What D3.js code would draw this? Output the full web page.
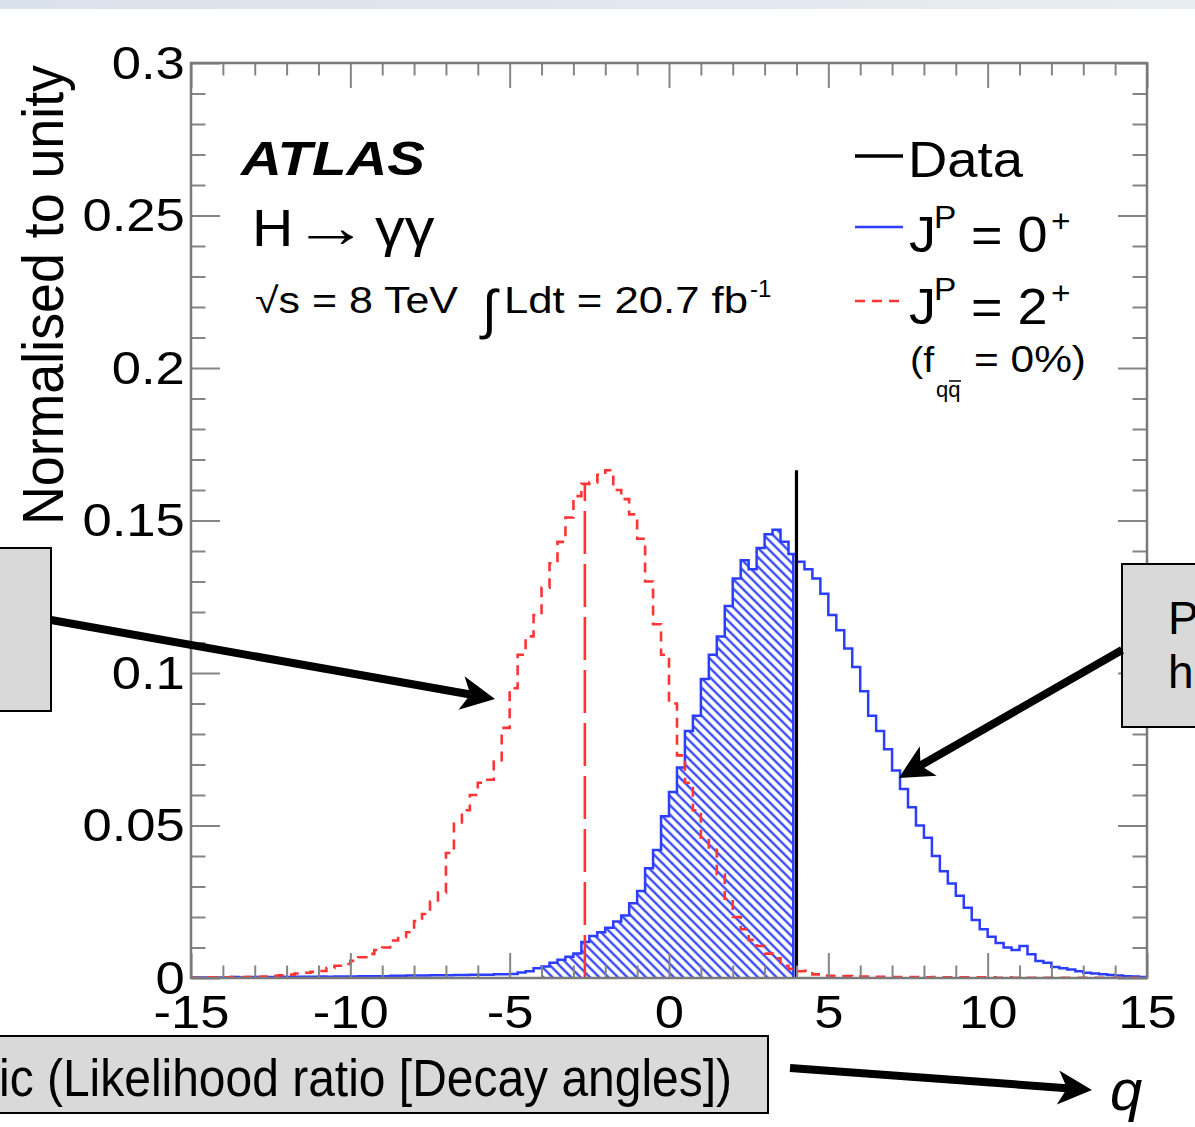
<!DOCTYPE html>
<html><head><meta charset="utf-8">
<script src="https://cdn.jsdelivr.net/npm/d3@7"></script>
<style>
html,body{margin:0;padding:0;background:#fff;overflow:hidden}
svg{display:block}
text{font-family:"Liberation Sans",Arial,Helvetica,sans-serif}
</style></head><body>
<svg id="c" width="1195" height="1127"></svg>
<script>
// ---------------- data ----------------
// lower edges of the 0.25-wide bins in q
const binLow = d3.range(120).map(i => -15 + 0.25 * i);
const binUpper = 15;
// J^P = 0+ (blue, normalised to unity)
const spin0 = [
 0.0002,0.0002,0.0002,0.0002, 0.0002,0.0003,0.0002,0.0003, 0.0003,0.0003,0.0003,0.0004,
 0.0003,0.0004,0.0004,0.0004, 0.0005,0.0004,0.0005,0.0005, 0.0005,0.0006,0.0006,0.0006,
 0.0006,0.0007,0.0007,0.0008, 0.0008,0.0008,0.0009,0.0009, 0.0009,0.0010,0.0010,0.0011,
 0.0011,0.0011,0.0012,0.0012, 0.0013,0.0018,0.0022,0.0032, 0.0038,0.0050,0.0060,0.0070,
 0.0080,0.0118,0.0138,0.0150, 0.0165,0.0185,0.0205,0.0245, 0.0285,0.0360,0.0420,0.0530,
 0.0610,0.0690,0.0810,0.0860, 0.0980,0.1060,0.1120,0.1220, 0.1310,0.1370,0.1340,0.1410,
 0.1455,0.1470,0.1430,0.1390, 0.1365,0.1340,0.1310,0.1260, 0.1190,0.1140,0.1080,0.1020,
 0.0940,0.0860,0.0810,0.0750, 0.0680,0.0620,0.0560,0.0500, 0.0460,0.0400,0.0350,0.0310,
 0.0270,0.0230,0.0190,0.0160, 0.0135,0.0115,0.0100,0.0092, 0.0105,0.0078,0.0056,0.0050,
 0.0036,0.0032,0.0028,0.0022, 0.0017,0.0015,0.0012,0.0010, 0.0008,0.0006,0.0005,0.0003
];
// J^P = 2+ (red dashed, f_qqbar = 0%)
const spin2 = [
 0.0001,0.0001,0.0002,0.0002, 0.0002,0.0003,0.0003,0.0003, 0.0004,0.0005,0.0007,0.0009,
 0.0011,0.0015,0.0017,0.0020, 0.0023,0.0033,0.0040,0.0046, 0.0056,0.0068,0.0079,0.0092,
 0.0100,0.0123,0.0135,0.0150, 0.0187,0.0210,0.0250,0.0280, 0.0410,0.0510,0.0550,0.0600,
 0.0640,0.0650,0.0710,0.0820, 0.0950,0.1060,0.1120,0.1190, 0.1280,0.1360,0.1430,0.1510,
 0.1580,0.1620,0.1625,0.1650, 0.1665,0.1600,0.1570,0.1520, 0.1440,0.1300,0.1160,0.1060,
 0.0900,0.0730,0.0640,0.0550, 0.0460,0.0420,0.0340,0.0260, 0.0200,0.0160,0.0125,0.0105,
 0.0080,0.0065,0.0040,0.0030, 0.0022,0.0024,0.0012,0.0008, 0.0007,0.0006,0.0006,0.0005,
 0.0005,0.0004,0.0004,0.0004, 0.0003,0.0003,0.0003,0.0003, 0.0002,0.0003,0.0002,0.0002,
 0.0002,0.0002,0.0002,0.0002, 0.0002,0.0001,0.0002,0.0001, 0.0001,0.0001,0.0001,0.0001,
 0.0001,0.0001,0.0001,0.0001, 0.0001,0.0001,0.0001,0.0001, 0.0001,0.0001,0.0001,0.0001
];
const dataQ = 4.0, dataLineTop = 0.1665;        // observed value
const median2Q = -2.64, median2Top = 0.1617;    // median of 2+ distribution
const hatchRange = [-4.0, 3.9];                  // shaded region under 0+
const xMajorTicks = [-15, -10, -5, 0, 5, 10, 15];
const xTickLabels = ["-15", "-10", "-5", "0", "5", "10", "15"];
const xMinorTicks = [-14,-13,-12,-11,-9,-8,-7,-6,-4,-3,-2,-1,1,2,3,4,6,7,8,9,11,12,13,14];
const yMajorTicks = [0, 0.05, 0.1, 0.15, 0.2, 0.25, 0.3];
const yTickLabels = ["0", "0.05", "0.1", "0.15", "0.2", "0.25", "0.3"];
const yMinorTicks = [0.01,0.02,0.03,0.04,0.06,0.07,0.08,0.09,0.11,0.12,0.13,0.14,0.16,0.17,0.18,0.19,0.21,0.22,0.23,0.24,0.26,0.27,0.28,0.29];
// annotation arrow targets (data coords)
const arrowLeftTarget = [-5.46, 0.0915];
const arrowRightTarget = [7.21, 0.0656];

// ---------------- drawing ----------------
const W = 1195, H = 1127;
const BLUE = "#2b3dff", RED = "#ff3535", TICK = "#858585";
const svg = d3.select("#c");
svg.append("rect").attr("width", W).attr("height", H).attr("fill", "#fff");
const defs = svg.append("defs");
const grad = defs.append("linearGradient").attr("id", "strip").attr("x1", 0).attr("x2", 1);
grad.append("stop").attr("offset", "0%").attr("stop-color", "#d9e1ea");
grad.append("stop").attr("offset", "100%").attr("stop-color", "#e8edf2");
svg.append("rect").attr("width", W).attr("height", 9).attr("fill", "url(#strip)");

const pat = defs.append("pattern").attr("id", "hatch").attr("patternUnits", "userSpaceOnUse")
  .attr("width", 6.6).attr("height", 6.6).attr("patternTransform", "rotate(-45)");
pat.append("line").attr("x1", 3.3).attr("y1", -1).attr("x2", 3.3).attr("y2", 7.6)
  .attr("stroke", BLUE).attr("stroke-width", 2.2);

const x = d3.scaleLinear().domain([-15, 15]).range([191, 1147]);
const y = d3.scaleLinear().domain([0, 0.3]).range([978, 63]);

function steps(vals) {
  const p = binLow.map((q, i) => [q, vals[i]]);
  p.push([binUpper, vals[vals.length - 1]]);
  return p;
}
const line = d3.line().x(d => x(d[0])).y(d => y(d[1])).curve(d3.curveStepAfter);

// hatched area
const hatchPts = binLow.map((q, i) => [q, spin0[i]]).filter(d => d[0] >= hatchRange[0] && d[0] < hatchRange[1]);
const lastIdx = binLow.findIndex(q => q + 0.25 > hatchRange[1]);
hatchPts.push([hatchRange[1], spin0[lastIdx]]);
const area = d3.area().x(d => x(d[0])).y0(y(0)).y1(d => y(d[1])).curve(d3.curveStepAfter);
svg.append("path").attr("d", area(hatchPts)).attr("fill", "url(#hatch)").attr("stroke", "none");
svg.append("line").attr("x1", x(hatchRange[1])).attr("x2", x(hatchRange[1]))
  .attr("y1", y(0)).attr("y2", y(spin0[lastIdx])).attr("stroke", BLUE).attr("stroke-width", 2.5);

// histograms
svg.append("path").attr("d", line(steps(spin0))).attr("fill", "none").attr("stroke", BLUE).attr("stroke-width", 2.5);
svg.append("path").attr("d", line(steps(spin2))).attr("fill", "none").attr("stroke", RED).attr("stroke-width", 2.6)
  .attr("stroke-dasharray", "10,7");
// median line of 2+
svg.append("line").attr("x1", x(median2Q)).attr("x2", x(median2Q)).attr("y1", y(0)).attr("y2", y(median2Top))
  .attr("stroke", RED).attr("stroke-width", 2.6).attr("stroke-dasharray", "43,10");
// data
svg.append("line").attr("x1", x(dataQ)).attr("x2", x(dataQ)).attr("y1", y(0)).attr("y2", y(dataLineTop))
  .attr("stroke", "#000").attr("stroke-width", 3.2);

// axes (ROOT style: inward ticks on all four sides)
function styleAxis(g) {
  g.select(".domain").remove();
  g.attr("font-size", null).attr("font-family", null);
  g.selectAll("line").attr("stroke", TICK).attr("stroke-width", 2);
}
const gxB = svg.append("g").attr("transform", `translate(0,${y(0)})`)
  .call(d3.axisBottom(x).tickValues(xMajorTicks).tickSize(-25).tickSizeOuter(0).tickPadding(17)
    .tickFormat((d, i) => xTickLabels[i]));
styleAxis(gxB);
gxB.selectAll("text").attr("font-size", 47).attr("fill", "#000").attr("transform", "scale(1.12,1)");
svg.append("g").attr("transform", `translate(0,${y(0)})`)
  .call(d3.axisBottom(x).tickValues(xMinorTicks).tickSize(-12.5).tickSizeOuter(0).tickFormat("")).call(styleAxis);
svg.append("g").attr("transform", `translate(0,${y(0.3)})`)
  .call(d3.axisTop(x).tickValues(xMajorTicks).tickSize(-25).tickSizeOuter(0).tickFormat("")).call(styleAxis);
svg.append("g").attr("transform", `translate(0,${y(0.3)})`)
  .call(d3.axisTop(x).tickValues(xMinorTicks).tickSize(-12.5).tickSizeOuter(0).tickFormat("")).call(styleAxis);

const gyL = svg.append("g").attr("transform", `translate(${x(-15)},0)`)
  .call(d3.axisLeft(y).tickValues(yMajorTicks).tickSize(-29).tickSizeOuter(0).tickPadding(6)
    .tickFormat((d, i) => yTickLabels[i]));
styleAxis(gyL);
gyL.selectAll("text").attr("font-size", 47).attr("fill", "#000").attr("x", -5.5).attr("transform", "scale(1.12,1)");
svg.append("g").attr("transform", `translate(${x(-15)},0)`)
  .call(d3.axisLeft(y).tickValues(yMinorTicks).tickSize(-14.5).tickSizeOuter(0).tickFormat("")).call(styleAxis);
svg.append("g").attr("transform", `translate(${x(15)},0)`)
  .call(d3.axisRight(y).tickValues(yMajorTicks).tickSize(-29).tickSizeOuter(0).tickFormat("")).call(styleAxis);
svg.append("g").attr("transform", `translate(${x(15)},0)`)
  .call(d3.axisRight(y).tickValues(yMinorTicks).tickSize(-14.5).tickSizeOuter(0).tickFormat("")).call(styleAxis);

svg.append("rect").attr("x", x(-15)).attr("y", y(0.3)).attr("width", x(15) - x(-15)).attr("height", y(0) - y(0.3))
  .attr("fill", "none").attr("stroke", "#7a7a7a").attr("stroke-width", 2.5);

// text helper
function txt(g, px, py, s, o = {}) {
  let tr = `translate(${px},${py})`;
  if (o.rot) tr += ` rotate(${o.rot})`;
  if (o.sx) tr += ` scale(${o.sx},1)`;
  const t = g.append("text").attr("transform", tr).attr("font-size", o.size || 50)
    .attr("text-anchor", o.anchor || "start").attr("fill", o.fill || "#000").text(s);
  if (o.weight) t.attr("font-weight", o.weight);
  if (o.style) t.attr("font-style", o.style);
  if (o.family) t.attr("font-family", o.family);
  if (o.w) t.attr("textLength", o.w).attr("lengthAdjust", "spacingAndGlyphs");
  return t;
}

// axis title
txt(svg, 63, 295, "Normalised to unity", { rot: -90, anchor: "middle", size: 58, w: 460 });

// labels
txt(svg, 241, 175, "ATLAS", { size: 49, weight: "bold", style: "italic", w: 184 });
txt(svg, 252, 246, "H", { size: 52, sx: 1.1 });
txt(svg, 293, 247, "\u2192", { size: 58, sx: 1.3, family: "DejaVu Sans" });
txt(svg, 375, 246, "\u03B3\u03B3", { size: 54, sx: 1.1, family: "Liberation Serif" });
txt(svg, 255, 313, "\u221As = 8 TeV", { size: 36, w: 203 });
txt(svg, 482, 328, "\u222B", { size: 54, family: "Liberation Serif" });
txt(svg, 504, 313, "Ldt = 20.7 fb", { size: 36, w: 244 });
txt(svg, 750, 297, "-1", { size: 24 });

// legend
svg.append("line").attr("x1", 855).attr("x2", 903).attr("y1", 156).attr("y2", 156).attr("stroke", "#000").attr("stroke-width", 3.5);
txt(svg, 908, 177, "Data", { size: 50, w: 115 });
svg.append("line").attr("x1", 855).attr("x2", 903).attr("y1", 227).attr("y2", 227).attr("stroke", BLUE).attr("stroke-width", 2.6);
txt(svg, 909, 252, "J", { size: 50, sx: 1.08 });
txt(svg, 934, 228, "P", { size: 31, sx: 1.08 });
txt(svg, 971, 252, "= 0", { size: 50, sx: 1.08 });
txt(svg, 1051, 232, "+", { size: 31, sx: 1.08 });
svg.append("line").attr("x1", 855).attr("x2", 903).attr("y1", 301).attr("y2", 301).attr("stroke", RED).attr("stroke-width", 2.6).attr("stroke-dasharray", "10,7");
txt(svg, 909, 324, "J", { size: 50, sx: 1.08 });
txt(svg, 934, 300, "P", { size: 31, sx: 1.08 });
txt(svg, 971, 324, "= 2", { size: 50, sx: 1.08 });
txt(svg, 1051, 304, "+", { size: 31, sx: 1.08 });
txt(svg, 910, 372, "(f", { size: 36, sx: 1.1 });
txt(svg, 936, 397, "qq", { size: 22 });
svg.append("line").attr("x1", 949).attr("x2", 961).attr("y1", 381).attr("y2", 381).attr("stroke", "#000").attr("stroke-width", 1.5);
txt(svg, 974, 372, "= 0%)", { size: 36, w: 112 });

// ---------- slide annotations ----------
function arrow(x1, y1, x2, y2) {
  const dx = x2 - x1, dy = y2 - y1, len = Math.hypot(dx, dy);
  const ux = dx / len, uy = dy / len, nx = -uy, ny = ux;
  const L = 34, hw = 17, notch = 9;
  svg.append("line").attr("x1", x1).attr("y1", y1)
    .attr("x2", x2 - (L - notch) * ux).attr("y2", y2 - (L - notch) * uy)
    .attr("stroke", "#000").attr("stroke-width", 8);
  const pts = [[x2, y2], [x2 - L * ux + hw * nx, y2 - L * uy + hw * ny],
    [x2 - (L - notch) * ux, y2 - (L - notch) * uy], [x2 - L * ux - hw * nx, y2 - L * uy - hw * ny]];
  svg.append("polygon").attr("points", pts.map(p => p.join(",")).join(" ")).attr("fill", "#000");
}
function box(bx, by, bw, bh) {
  svg.append("rect").attr("x", bx).attr("y", by).attr("width", bw).attr("height", bh)
    .attr("fill", "#d9d9d9").attr("stroke", "#000").attr("stroke-width", 2);
}
box(-3, 548, 54, 163);
arrow(51, 620, x(arrowLeftTarget[0]), y(arrowLeftTarget[1]));
box(1122, 564, 80, 163);
txt(svg, 1168, 634, "P", { size: 46 });
txt(svg, 1168, 688, "h", { size: 46 });
arrow(1122, 650, x(arrowRightTarget[0]), y(arrowRightTarget[1]));
box(-3, 1036, 771, 77);
txt(svg, -1, 1096, "ic (Likelihood ratio [Decay angles])", { size: 51, w: 733 });
arrow(790, 1068, 1092, 1090);
txt(svg, 1110, 1110, "q", { size: 58, style: "italic" });
</script>
</body></html>
